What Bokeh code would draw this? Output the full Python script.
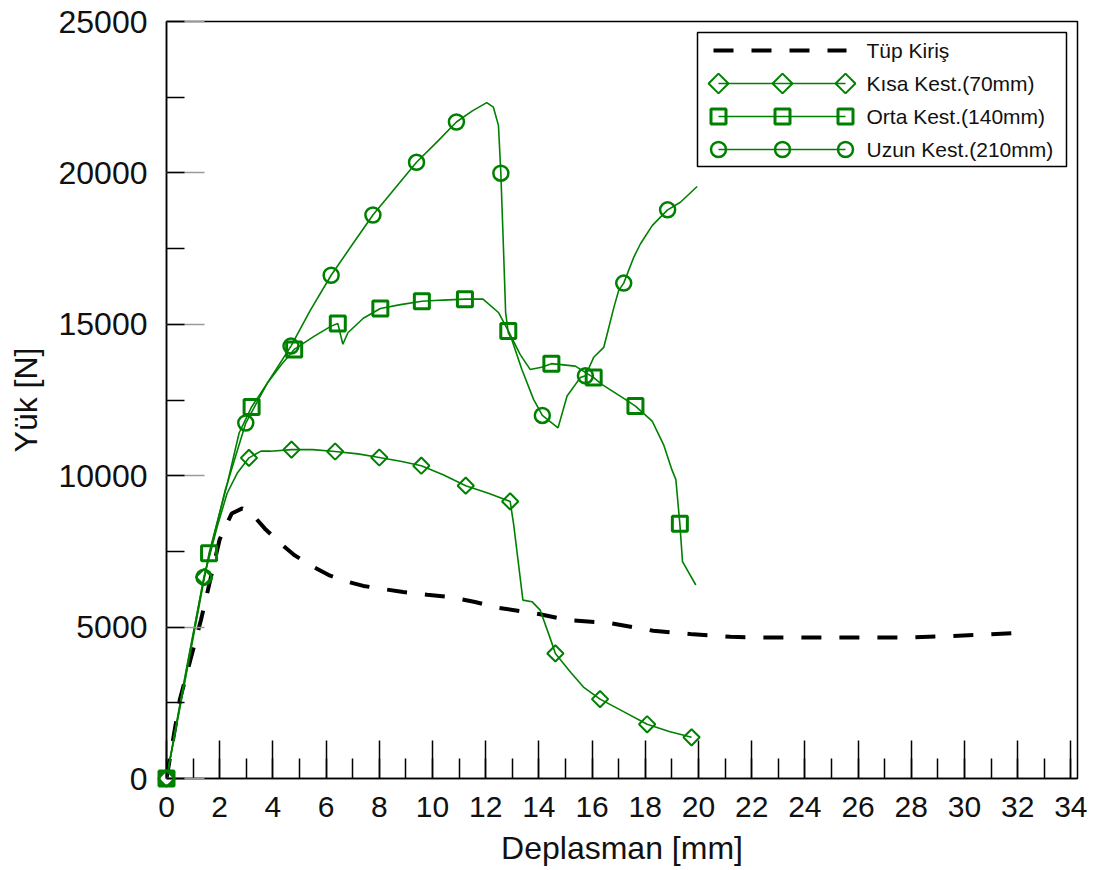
import math
from bokeh.plotting import figure
from bokeh.models import Range1d, SingleIntervalTicker
from bokeh.core.properties import value
from bokeh.embed import file_html
from bokeh.resources import INLINE

# ---------------- data ----------------
tup_x = [0, 0.5, 1.3, 2.0, 2.45, 2.85, 3.2, 3.7, 4.3, 4.8, 5.5, 6.1, 6.8, 7.4, 8.2, 8.9,
         9.8, 10.7, 11.6, 12.5, 13.3, 14.0, 15.1, 16.7, 18.3, 19.8, 21.2, 22.2, 24.0,
         26.0, 28.1, 29.3, 31.0, 32.0]
tup_y = [0, 2600, 5250, 7900, 8750, 8920, 8750, 8250, 7750, 7380, 7000, 6720, 6500, 6360,
         6250, 6160, 6070, 5990, 5830, 5630, 5530, 5430, 5230, 5130, 4880, 4760, 4680,
         4660, 4660, 4660, 4660, 4700, 4760, 4810]

kisa_x = [0, 0.7, 1.41, 1.9, 2.28, 2.67, 3.1, 3.55, 3.92, 4.7, 5.5, 6.34, 7.2, 8.0, 8.8,
          9.58, 10.4, 11.25, 12.1, 12.92, 13.05, 13.4, 13.74, 14.05, 14.45, 14.62, 15.2,
          15.7, 16.3, 17.2, 18.07, 18.9, 19.74]
kisa_y = [0, 3400, 6650, 8300, 9420, 10100, 10590, 10810, 10810, 10860, 10860, 10800,
          10720, 10600, 10480, 10330, 10030, 9670, 9420, 9150, 8400, 5890, 5840, 5560,
          4570, 4130, 3500, 3000, 2620, 2200, 1790, 1550, 1360]
kisa_mx = [0, 1.41, 3.1, 4.7, 6.34, 8.0, 9.58, 11.25, 12.92, 14.62, 16.3, 18.07, 19.74]
kisa_my = [0, 6650, 10590, 10860, 10800, 10600, 10330, 9670, 9150, 4130, 2620, 1790, 1360]

orta_x = [0, 0.8, 1.6, 2.29, 2.73, 3.2, 3.8, 4.3, 4.8, 5.56, 6.19, 6.44, 6.63, 6.82, 7.4,
          8.04, 8.8, 9.6, 10.4, 11.22, 11.9, 12.48, 12.85, 13.3, 13.67, 14.1, 14.47, 15.37,
          16.06, 16.38, 17.25, 17.63, 18.26, 18.7, 19.0, 19.15, 19.3, 19.4, 19.9]
orta_y = [0, 3700, 7440, 9750, 11410, 12270, 13070, 13650, 14170, 14610, 14940, 15030,
          14340, 14720, 15200, 15520, 15650, 15760, 15800, 15830, 15830, 15390, 14780,
          14000, 13510, 13580, 13700, 13620, 13240, 13010, 12520, 12300, 11800, 11000,
          10200, 9870, 8410, 7160, 6390]
orta_mx = [0, 1.6, 3.2, 4.8, 6.44, 8.04, 9.6, 11.22, 12.85, 14.47, 16.06, 17.63, 19.3]
orta_my = [0, 7440, 12270, 14170, 15030, 15520, 15760, 15830, 14780, 13700, 13240, 12300,
           8410]

uzun_x = [0, 0.8, 1.41, 2.2, 2.98, 3.8, 4.68, 5.4, 6.19, 7.0, 7.76, 8.6, 9.4, 10.2, 10.9,
          11.5, 12.04, 12.29, 12.48, 12.57, 12.67, 12.75, 12.85, 12.98, 13.36, 13.8, 14.13,
          14.72, 15.06, 15.56, 15.75, 16.06, 16.44, 16.57, 16.82, 17.0, 17.19, 17.57,
          17.82, 18.26, 18.57, 18.84, 19.32, 19.95]
uzun_y = [0, 3800, 6650, 9500, 11740, 13070, 14280, 15450, 16620, 17650, 18610, 19500,
          20350, 21050, 21680, 22050, 22320, 22170, 21570, 19990, 17480, 15390, 14720,
          14500, 13510, 12520, 11990, 11580, 12630, 13240, 13300, 13910, 14240, 14690,
          15560, 16120, 16360, 17220, 17660, 18260, 18540, 18780, 19030, 19550]
uzun_mx = [0, 1.41, 2.98, 4.68, 6.19, 7.76, 9.4, 10.9, 12.57, 14.13, 15.75, 17.19, 18.84]
uzun_my = [0, 6650, 11740, 14280, 16620, 18610, 20350, 21680, 19990, 11990, 13300, 16360,
           18780]

legend_labels = ["Tüp Kiriş", "Kısa Kest.(70mm)", "Orta Kest.(140mm)", "Uzun Kest.(210mm)"]

# ---------------- figure ----------------
GREEN = "#008000"
FONT = "Liberation Sans"
FW, FH = 911, 757

p = figure(frame_width=FW, frame_height=FH, output_backend="svg", toolbar_location=None,
           x_range=Range1d(0, 34.25), y_range=Range1d(0, 25000),
           min_border_left=166, min_border_right=25, min_border_top=21, min_border_bottom=92)
p.background_fill_color = "white"
p.border_fill_color = "white"
p.outline_line_color = "black"
p.outline_line_width = 1.5
p.grid.visible = False

p.xaxis.ticker = SingleIntervalTicker(interval=2, num_minor_ticks=2)
p.yaxis.ticker = SingleIntervalTicker(interval=5000, num_minor_ticks=2)
for ax in (p.xaxis[0], p.yaxis[0]):
    ax.axis_line_color = "black"
    ax.axis_line_width = 1.5
    ax.major_tick_out = 0
    ax.minor_tick_out = 0
    ax.major_tick_in = 38
    ax.major_label_text_font = FONT
    ax.major_label_text_color = "#111111"
    ax.axis_label_text_font = FONT
    ax.axis_label_text_font_size = "32px"
    ax.axis_label_text_font_style = "normal"
    ax.axis_label_text_color = "#111111"
    ax.major_tick_line_width = 1.5
    ax.minor_tick_line_width = 1.5

p.xaxis.major_label_text_font_size = "30px"
p.yaxis.major_label_text_font_size = "32px"
p.xaxis.major_tick_line_color = "black"
p.xaxis.minor_tick_line_color = "black"
p.xaxis.minor_tick_in = 20
p.yaxis.major_tick_line_color = "#9a9a9a"
p.yaxis.minor_tick_line_color = "black"
p.yaxis.minor_tick_in = 18
p.xaxis.axis_label = "Deplasman [mm]"
p.yaxis.axis_label = "Yük [N]"
p.xaxis.major_label_standoff = 18
p.xaxis.axis_label_standoff = 10
p.yaxis.major_label_standoff = 19
p.yaxis.axis_label_standoff = 12

# ---------------- series ----------------
p.line(tup_x, tup_y, line_color="black", line_width=4, line_dash="20 18")

p.line(kisa_x, kisa_y, line_color=GREEN, line_width=1.6)
p.line(orta_x, orta_y, line_color=GREEN, line_width=1.6)
p.line(uzun_x, uzun_y, line_color=GREEN, line_width=1.6)

p.scatter(kisa_mx, kisa_my, marker="square", angle=math.pi / 4, size=11.5,
          fill_color=None, line_color=GREEN, line_width=2, level="overlay")
p.scatter(orta_mx, orta_my, marker="square", size=15,
          fill_color=None, line_color=GREEN, line_width=3, level="overlay")
p.scatter(uzun_mx, uzun_my, marker="circle", size=15,
          fill_color=None, line_color=GREEN, line_width=2.5, level="overlay")

# ---------------- legend (frame pixel coordinates) ----------------
p.extra_x_ranges["px"] = Range1d(0, FW)
p.extra_y_ranges["py"] = Range1d(0, FH)
kw = dict(x_range_name="px", y_range_name="py")

p.quad(left=[531], right=[900], bottom=[612], top=[746], fill_color="white",
       line_color="black", line_width=1.5, level="overlay", **kw)
rows_y = [728, 695, 662, 629]
p.line([547, 680], [rows_y[0]] * 2, line_color="black", line_width=4, line_dash="20 18",
       level="overlay", **kw)
mk = [(rows_y[1], dict(marker="square", angle=math.pi / 4, size=14, line_width=2)),
      (rows_y[2], dict(marker="square", size=15, line_width=3)),
      (rows_y[3], dict(marker="circle", size=15, line_width=2.5))]
for yy, opts in mk:
    p.line([552, 679], [yy, yy], line_color=GREEN, line_width=1.6, level="overlay", **kw)
    p.scatter([552, 616, 679], [yy] * 3, fill_color=None, line_color=GREEN,
              level="overlay", **opts, **kw)

p.text(x=[700] * 4, y=rows_y, text=legend_labels, text_font=value(FONT),
       text_font_size="21px", text_color="#111111", text_baseline="middle",
       text_align="left", level="overlay", **kw)

open("out.html", "w").write(file_html(p, INLINE))
